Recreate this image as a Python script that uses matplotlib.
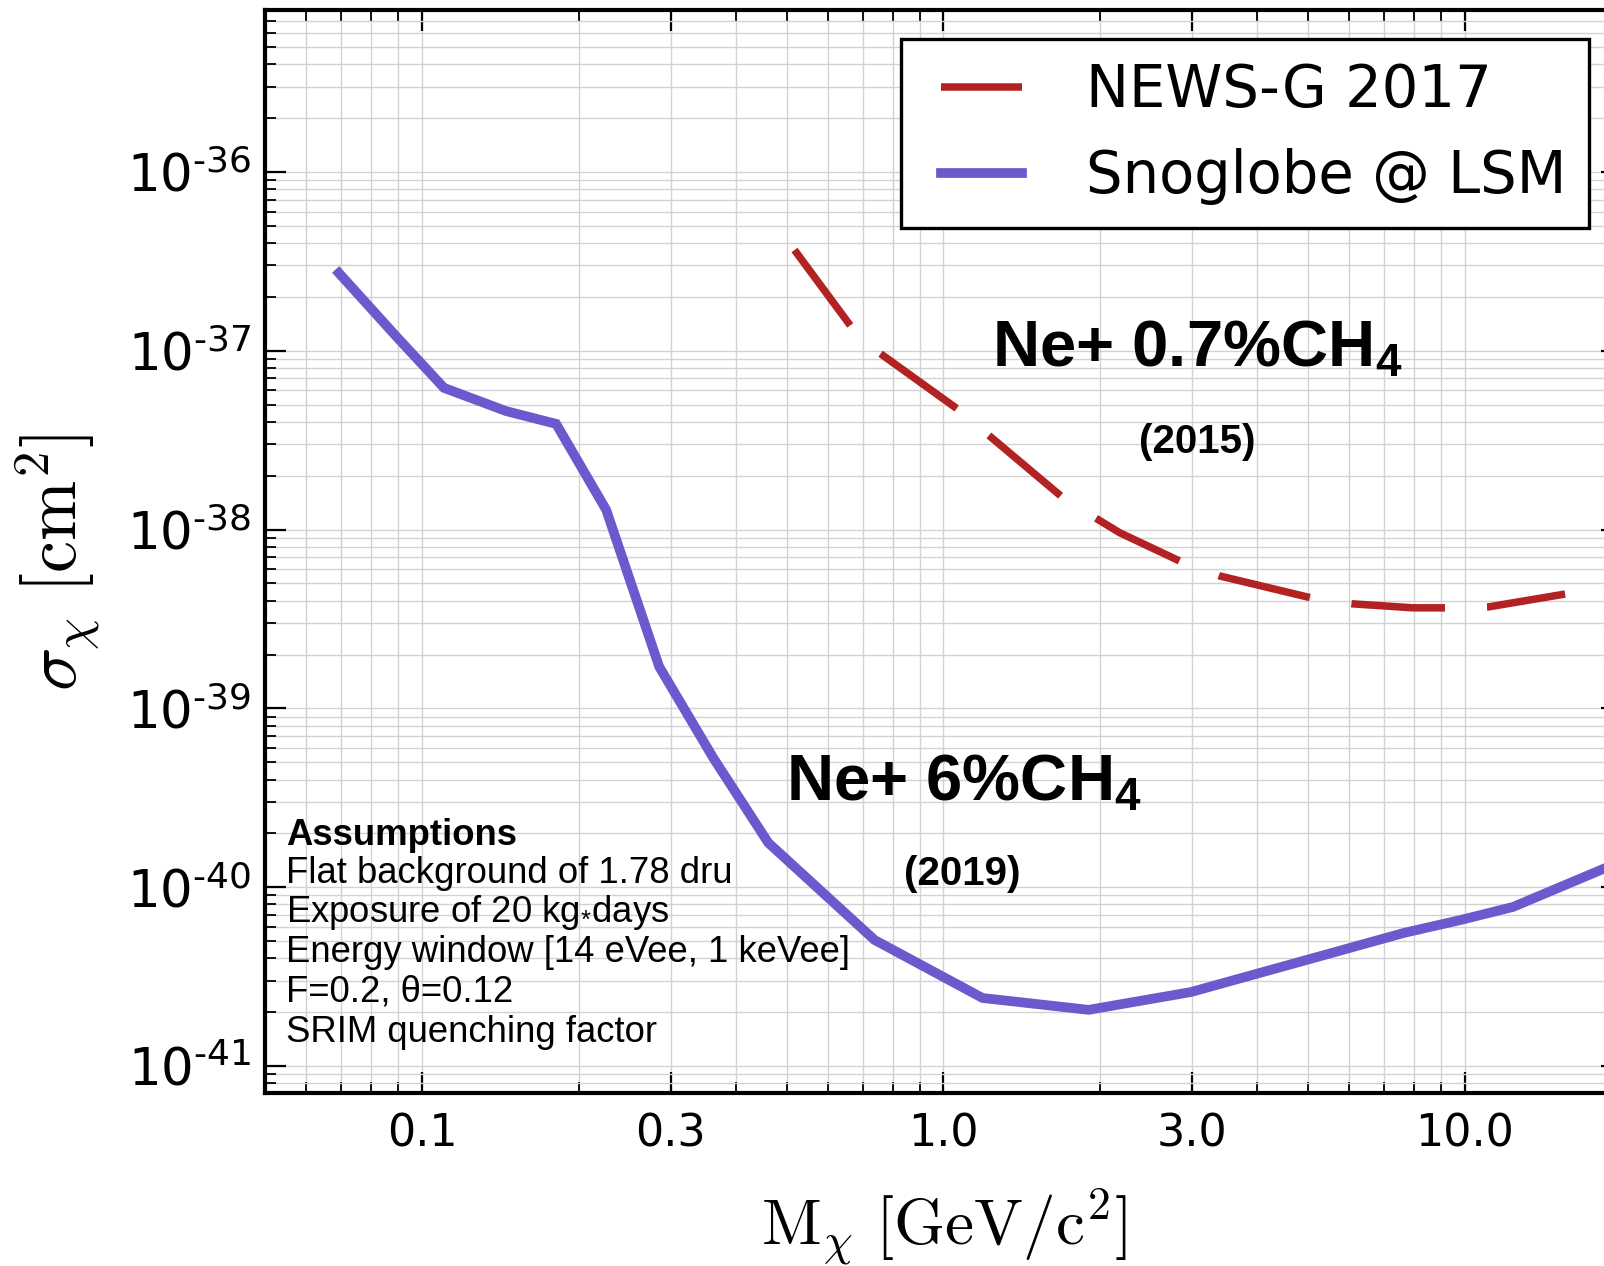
import matplotlib
matplotlib.use("Agg")
import matplotlib.pyplot as plt
from matplotlib.ticker import FixedLocator, FixedFormatter, NullFormatter, LogLocator

# ---------------------------------------------------------------------
# Exclusion limits: WIMP mass [GeV/c^2] vs. cross-section [cm^2]
# ---------------------------------------------------------------------
# NEWS-G 2017 result (Ne + 0.7% CH4, data taken in 2015)
newsg_mass = [0.518, 0.693, 1.064, 1.707, 2.177, 2.862, 3.388, 5.085,
              6.10, 7.95, 9.27, 11.07, 15.56]
newsg_xsec = [3.66e-37, 1.16e-37, 4.72e-38, 1.48e-38, 9.6e-39, 6.59e-39,
              5.50e-39, 4.14e-39, 3.84e-39, 3.65e-39, 3.65e-39, 3.69e-39,
              4.36e-39]

# Snoglobe @ LSM projection (Ne + 6% CH4, 2019)
snoglobe_mass = [0.0693, 0.0891, 0.1102, 0.1449, 0.1808, 0.2255, 0.2850,
                 0.3619, 0.4614, 0.7373, 1.188, 1.898, 2.980, 7.64, 9.82,
                 12.36, 20.0]
snoglobe_xsec = [2.72e-37, 1.21e-37, 6.20e-38, 4.60e-38, 3.90e-38, 1.29e-38,
                 1.71e-39, 5.28e-40, 1.77e-40, 5.07e-41, 2.40e-41, 2.06e-41,
                 2.59e-41, 5.55e-41, 6.56e-41, 7.75e-41, 1.40e-40]

series_labels = ["NEWS-G 2017", "Snoglobe @ LSM"]

mass_ticks = [0.1, 0.3, 1.0, 3.0, 10.0]
mass_tick_labels = ["0.1", "0.3", "1.0", "3.0", "10.0"]
xsec_exponents = [-41, -40, -39, -38, -37, -36]

assumptions_title = "Assumptions"
assumption_lines = [
    "Flat background of 1.78 dru",
    "Exposure of 20 kg$_\\mathregular{*}$days",
    "Energy window [14 eVee, 1 keVee]",
    "F=0.2, \u03b8=0.12",
    "SRIM quenching factor",
]

gas_2015 = "Ne+ 0.7%CH$_\\mathregular{4}$"
gas_2019 = "Ne+ 6%CH$_\\mathregular{4}$"
year_2015 = "(2015)"
year_2019 = "(2019)"

# ---------------------------------------------------------------------
W, H = 1604, 1266
fig = plt.figure(figsize=(W / 100, H / 100), dpi=100)

def fx(px):
    return px / W

def fy(py):
    return 1 - py / H

ax = fig.add_axes([fx(265), fy(1093), fx(1622) - fx(265), fy(10) - fy(1093)])
ax.set_xscale("log")
ax.set_yscale("log")
ax.set_xlim(0.05, 20)
ax.set_ylim(7.06e-42, 8.05e-36)

ax.plot(newsg_mass, newsg_xsec, color="#b22222", lw=5.4,
        linestyle=(0, (12.5, 5.6)), dash_capstyle="butt",
        label=series_labels[0], zorder=3)
ax.plot(snoglobe_mass, snoglobe_xsec, color="#6a5acd", lw=7.0,
        solid_joinstyle="miter", label=series_labels[1], zorder=3)

# axes, ticks and grid
for sp in ax.spines.values():
    sp.set_linewidth(3.0)
    sp.set_color("black")

ax.xaxis.set_major_locator(FixedLocator(mass_ticks))
ax.xaxis.set_major_formatter(FixedFormatter(mass_tick_labels))
ax.xaxis.set_minor_locator(LogLocator(base=10, subs=(2, 4, 5, 6, 7, 8, 9), numticks=20))
ax.xaxis.set_minor_formatter(NullFormatter())

ytick_vals = [10.0 ** e for e in xsec_exponents]
ytick_text = ["$\\mathregular{10^{\u2010%d}}$" % abs(e) for e in xsec_exponents]
ax.yaxis.set_major_locator(FixedLocator(ytick_vals))
ax.yaxis.set_major_formatter(FixedFormatter(ytick_text))
ax.yaxis.set_minor_locator(LogLocator(base=10, subs=(2, 3, 4, 5, 6, 7, 8, 9), numticks=20))
ax.yaxis.set_minor_formatter(NullFormatter())

ax.tick_params(which="both", direction="in", top=True, right=True,
               colors="black")
ax.tick_params(which="major", length=15, width=1.6)
ax.tick_params(axis="x", which="major", pad=14, labelsize=32)
ax.tick_params(axis="y", which="major", pad=10, labelsize=37)
ax.tick_params(which="minor", length=8, width=1.3)

ax.grid(which="both", color="#d2d2d2", lw=1.0, zorder=0)
ax.set_axisbelow(True)

ax.set_xlabel(r"$\mathrm{M}_\chi\ [\mathrm{GeV/c}^2]$", fontsize=47,
              math_fontfamily="cm")
ax.set_ylabel(r"$\sigma_\chi\ [\mathrm{cm}^2]$", fontsize=52,
              math_fontfamily="cm")
ax.xaxis.set_label_coords(0.5, -0.087)
ax.yaxis.set_label_coords(-0.120, 0.49)

leg = ax.legend(loc="upper right", bbox_to_anchor=(fx(1589), fy(39)),
                bbox_transform=fig.transFigure, borderaxespad=0,
                fontsize=41.5, numpoints=2, fancybox=False, framealpha=1,
                edgecolor="black", handlelength=2.0, handletextpad=0.8,
                borderpad=0.4, labelspacing=0.5)
leg.get_frame().set_linewidth(2.4)

# gas-mixture annotations
bold_font = ["Liberation Sans", "DejaVu Sans"]
fig.text(fx(992), fy(366), gas_2015, fontsize=47, fontweight="bold",
         family=bold_font, va="baseline", ha="left")
fig.text(fx(1139), fy(453), year_2015, fontsize=29, fontweight="bold",
         family=bold_font, va="baseline", ha="left")
fig.text(fx(786), fy(800), gas_2019, fontsize=47, fontweight="bold",
         family=bold_font, va="baseline", ha="left")
fig.text(fx(904), fy(885), year_2019, fontsize=29, fontweight="bold",
         family=bold_font, va="baseline", ha="left")

# assumptions block
baselines = [845, 883, 922, 962, 1002, 1042]
fig.text(fx(286), fy(baselines[0]), assumptions_title, fontsize=26.3,
         fontweight="bold", family=bold_font, va="baseline", ha="left")
for line, yb in zip(assumption_lines, baselines[1:]):
    fig.text(fx(286), fy(yb), line, fontsize=26.3, family=bold_font,
             va="baseline", ha="left")

fig.savefig("out.png", dpi=100)
